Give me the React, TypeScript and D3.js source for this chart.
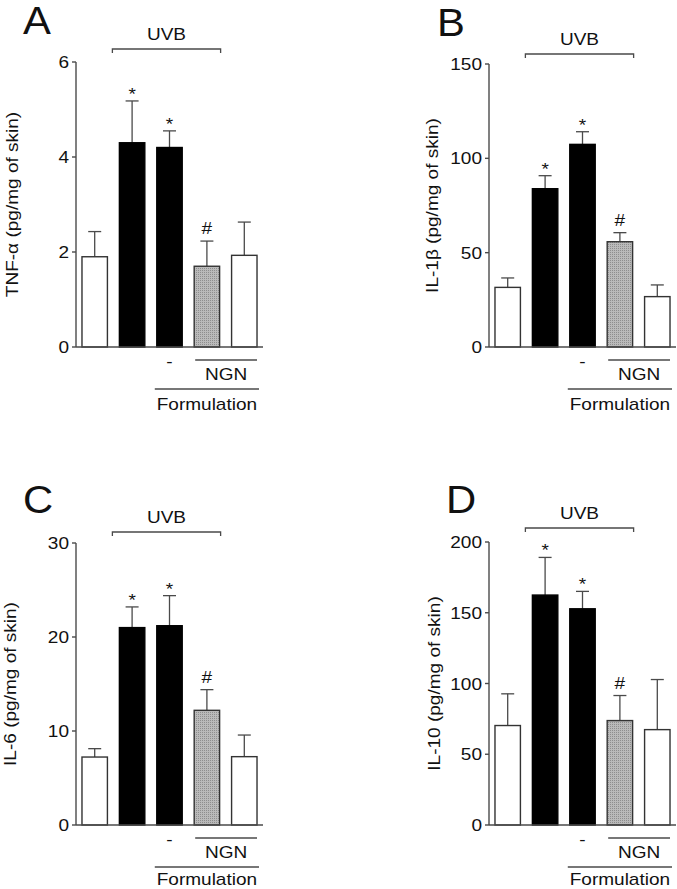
import React from "react";
import * as d3 from "d3";

const groups = ["Sham", "UVB", "UVB + Vehicle", "UVB + NGN formulation", "NGN formulation"];
const barFills = ["white", "black", "black", "pattern", "white"];
const marks = ["", "*", "*", "#", ""];

const tnfMean = [1.9, 4.3, 4.2, 1.7, 1.93];
const tnfSem = [0.53, 0.88, 0.35, 0.53, 0.7];
const tnfTicks = [0, 2, 4, 6];

const il1Mean = [31.6, 83.9, 107.4, 55.8, 26.7];
const il1Sem = [5.0, 6.9, 6.7, 4.8, 6.2];
const il1Ticks = [0, 50, 100, 150];

const il6Mean = [7.23, 21.0, 21.2, 12.2, 7.27];
const il6Sem = [0.89, 2.2, 3.2, 2.2, 2.3];
const il6Ticks = [0, 10, 20, 30];

const il10Mean = [70.3, 162.5, 152.8, 73.8, 67.4];
const il10Sem = [22.4, 26.6, 12.3, 17.7, 35.4];
const il10Ticks = [0, 50, 100, 150, 200];

const panels = [
  { letter: "A", label: "TNF-α (pg/mg of skin)", mean: tnfMean, sem: tnfSem, ticks: tnfTicks,
    ax: 76, y0: 347, yTop: 62, bracketY: 49, letterX: 23, letterY: 34, labelX: 18, formY: 63 },
  { letter: "B", label: "IL-1β (pg/mg of skin)", mean: il1Mean, sem: il1Sem, ticks: il1Ticks,
    ax: 489, y0: 347, yTop: 64, bracketY: 54, letterX: 437, letterY: 36, labelX: 438, formY: 63 },
  { letter: "C", label: "IL-6 (pg/mg of skin)", mean: il6Mean, sem: il6Sem, ticks: il6Ticks,
    ax: 76, y0: 825, yTop: 543, bracketY: 532, letterX: 23, letterY: 513, labelX: 16, formY: 60 },
  { letter: "D", label: "IL-10 (pg/mg of skin)", mean: il10Mean, sem: il10Sem, ticks: il10Ticks,
    ax: 489, y0: 825, yTop: 542, bracketY: 528, letterX: 446, letterY: 513, labelX: 440, formY: 60 },
];

const FONT = "'Liberation Sans', Arial, sans-serif";
const FS = 17;
const SX = 1.12;
const AX_COLOR = "#4a4a4a";

function T({ x, y, children, anchor = "middle", size = FS, rotate = 0, sx = SX }: any) {
  const tr = `translate(${x},${y})${rotate ? ` rotate(${rotate})` : ""} scale(${sx},1)`;
  return (
    <text transform={tr} textAnchor={anchor} fontSize={size} fontFamily={FONT} fill="#111">
      {children}
    </text>
  );
}

function Panel({ p }: any) {
  const x = d3.scaleBand<string>().domain(groups).range([p.ax, p.ax + 187]).paddingInner(0.32).paddingOuter(0.16);
  const maxT = p.ticks[p.ticks.length - 1];
  const y = d3.scaleLinear().domain([0, maxT]).range([p.y0, p.yTop]);
  const bw = x.bandwidth();
  const xs = (i: number) => x(groups[i]) as number;
  const b2 = xs(1), b3 = xs(2), b4 = xs(3), b5 = xs(4);
  return (
    <g>
      <T x={p.letterX} y={p.letterY} anchor="start" size={38} sx={1.1}>{p.letter}</T>
      <path d={`M${b2 - 7},${p.bracketY + 4}V${p.bracketY}H${b4 + bw + 1}V${p.bracketY + 4}`} fill="none" stroke={AX_COLOR} strokeWidth={1.3} />
      <T x={(b2 - 7 + b4 + bw + 1) / 2} y={p.bracketY - 9}>UVB</T>
      <T x={p.labelX} y={(p.y0 + p.yTop) / 2} rotate={-90}>{p.label}</T>
      {p.mean.map((v: number, i: number) => {
        const top = y(v);
        const et = y(v + p.sem[i]);
        const cx = xs(i) + bw / 2;
        return (
          <g key={i}>
            <line x1={cx} x2={cx} y1={top} y2={et} stroke={AX_COLOR} strokeWidth={1.3} />
            <line x1={cx - 6.5} x2={cx + 6.5} y1={et} y2={et} stroke={AX_COLOR} strokeWidth={1.3} />
            <rect x={xs(i)} y={top} width={bw} height={p.y0 - top}
              fill={barFills[i] === "pattern" ? "url(#stip)" : barFills[i]}
              stroke={barFills[i] === "black" ? "black" : "#333"} strokeWidth={1.4} />
            {marks[i] === "*" && <T x={cx} y={et - 1}>*</T>}
            {marks[i] === "#" && <T x={cx} y={et - 7}>#</T>}
          </g>
        );
      })}
      <line x1={p.ax} x2={p.ax} y1={p.yTop} y2={p.y0} stroke={AX_COLOR} strokeWidth={1.4} />
      <line x1={p.ax} x2={p.ax + 187} y1={p.y0} y2={p.y0} stroke={AX_COLOR} strokeWidth={1.4} />
      {p.ticks.map((t: number) => (
        <g key={t}>
          <line x1={p.ax - 4} x2={p.ax} y1={y(t)} y2={y(t)} stroke={AX_COLOR} strokeWidth={1.4} />
          <T x={p.ax - 7} y={y(t) + 6} anchor="end">{t}</T>
        </g>
      ))}
      <T x={b3 + bw / 2} y={p.y0 + 20}>-</T>
      <line x1={b4 + 1} x2={b5 + bw} y1={p.y0 + 13} y2={p.y0 + 13} stroke={AX_COLOR} strokeWidth={1.3} />
      <T x={(b4 + 1 + b5 + bw) / 2} y={p.y0 + 33}>NGN</T>
      <line x1={b3 - 2} x2={b5 + bw + 2} y1={p.y0 + 42} y2={p.y0 + 42} stroke={AX_COLOR} strokeWidth={1.3} />
      <T x={(b3 - 2 + b5 + bw + 2) / 2} y={p.y0 + p.formY}>Formulation</T>
    </g>
  );
}

export default function App() {
  return (
    <div style={{ position: "absolute", left: 0, top: 0 }}>
      <svg width={677} height={889} viewBox="0 0 677 889" style={{ display: "block", background: "white" }}>
        <defs>
          <pattern id="stip" width={2} height={2} patternUnits="userSpaceOnUse">
            <rect width={2} height={2} fill="#bababa" />
            <rect width={1} height={1} fill="#8e8e8e" />
          </pattern>
        </defs>
        <rect width={677} height={889} fill="white" />
        {panels.map((p) => (
          <Panel key={p.letter} p={p} />
        ))}
      </svg>
    </div>
  );
}
